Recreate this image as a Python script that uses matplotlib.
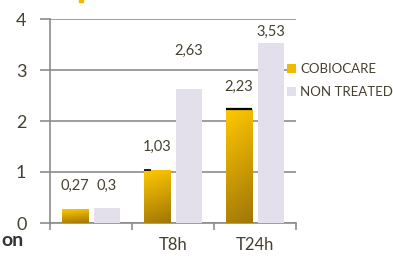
import numpy as np
import matplotlib
matplotlib.use("Agg")
import matplotlib.pyplot as plt
from matplotlib.patches import Patch

categories = ["", "T8h", "T24h"]
cobiocare = [0.27, 1.03, 2.23]
non_treated = [0.30, 2.63, 3.53]
cob_labels = ["0,27", "1,03", "2,23"]
nt_labels = ["0,3", "2,63", "3,53"]
series_names = ["COBIOCARE", "NON TREATED"]
yticks = [0, 1, 2, 3, 4]

# label offsets (points above bar top)
cob_off = [17, 17, 16]
nt_off = [16, 27, 8]

TEXT = "#45402f"
GRID = "#8c8c8c"
NT_COLOR = "#e3dfeb"

plt.rcParams['font.family'] = ['Lato', 'DejaVu Sans']

fig = plt.figure(figsize=(3.93, 2.63), dpi=100)
ax = fig.add_axes([50/393, 1-223/263, 246/393, 204/263])

x = np.arange(len(categories))
w = 0.32
off = 0.195

# gradient image for gold bars
gy, gx = np.mgrid[0:1:64j, 0:1:16j]
t = np.clip(0.85*gy + 0.15*gx, 0, 1)  # 0 top -> 1 bottom
top = np.array([255, 200, 0]) / 255
bot = np.array([160, 118, 8]) / 255
grad = top[None, None, :]*(1-t[..., None]) + bot[None, None, :]*t[..., None]

cob_bars = ax.bar(x - off, cobiocare, w, color="#f0b800", zorder=3)
for b in cob_bars:
    x0, y0, bw, bh = b.get_x(), b.get_y(), b.get_width(), b.get_height()
    im = ax.imshow(grad, extent=[x0, x0+bw, y0, y0+bh], origin="upper",
                   aspect="auto", zorder=3.5, interpolation="bilinear")
    im.set_clip_path(b)
nt_bars = ax.bar(x + off, non_treated, w, color=NT_COLOR, zorder=3)

# small black caps on top of gold bars
ax.hlines(cobiocare[1], x[1]-off-w/2, x[1]-off-w/2+0.09, color="black", lw=1.2, zorder=5)
ax.hlines(cobiocare[2]+0.01, x[2]-off-w/2, x[2]-off+w/2, color="black", lw=1.6, zorder=5)

for i in range(len(categories)):
    ax.annotate(cob_labels[i], (x[i]-off, cobiocare[i]), xytext=(0, cob_off[i]),
                textcoords="offset points", ha="center", va="center",
                fontsize=10.5, color=TEXT)
    ax.annotate(nt_labels[i], (x[i]+off, non_treated[i]), xytext=(0, nt_off[i]),
                textcoords="offset points", ha="center", va="center",
                fontsize=10.5, color=TEXT)

ax.set_xlim(-0.5, len(categories)-0.5)
ax.set_ylim(0, 4)
ax.set_yticks(yticks)
ax.set_yticklabels([str(v) for v in yticks])
ax.yaxis.grid(True, color=GRID, lw=1.2, zorder=0)
ax.set_axisbelow(True)

ax.set_xticks(x)
ax.set_xticklabels(categories)
ax.set_xticks(np.arange(-0.5, len(categories)), minor=True)
ax.tick_params(axis="x", which="major", length=0, pad=10, labelsize=12, labelcolor=TEXT)
ax.tick_params(axis="x", which="minor", length=5, width=1.2, color=GRID, direction="out")
ax.tick_params(axis="y", length=7, width=1.2, color=GRID, pad=10, labelsize=13, labelcolor=TEXT)

for s in ["top", "right"]:
    ax.spines[s].set_visible(False)
for s in ["left", "bottom"]:
    ax.spines[s].set_color(GRID)
    ax.spines[s].set_linewidth(1.2)

handles = [Patch(facecolor="#f0b800", edgecolor="none"),
           Patch(facecolor=NT_COLOR, edgecolor="none")]
leg = fig.legend(handles, series_names, loc="upper left",
                 bbox_to_anchor=(287/393, 1-63/263), frameon=False,
                 fontsize=9.5, labelcolor=TEXT, handlelength=0.7, handleheight=0.7,
                 handletextpad=0.3, labelspacing=0.85, borderaxespad=0, borderpad=0)

fig.text(0.003, 1-241/263, "on", fontsize=14, fontweight="bold", color="#333333",
         ha="left", va="center")
fig.patches.append(plt.Rectangle((79/393, 1-2/263), 4/393, 3/263, transform=fig.transFigure,
                                 color="#f5b800", figure=fig))

fig.savefig("out.png", dpi=100)
